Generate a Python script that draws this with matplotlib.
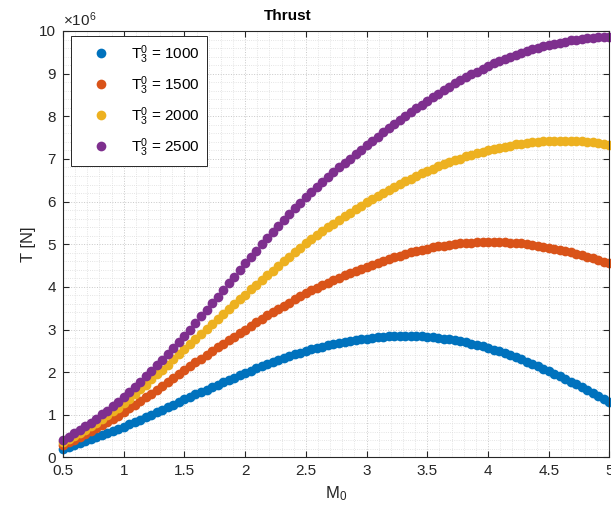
import matplotlib
matplotlib.use("Agg")
import matplotlib.pyplot as plt
import numpy as np
from matplotlib.ticker import MultipleLocator

plt.rcParams["font.family"] = "Liberation Sans"
plt.rcParams["mathtext.fontset"] = "custom"
plt.rcParams["mathtext.rm"] = "Liberation Sans"
plt.rcParams["mathtext.it"] = "Liberation Sans"

# MATLAB default line colours
COLORS = ["#0072BD", "#D95319", "#EDB120", "#7E2F8E"]
AX_COLOR = "#262626"

# flight Mach number, 100 samples from 0.5 to 5
mach = np.linspace(0.5, 5.0, 100)

# turbine inlet temperatures [K]
t3_values = [1000, 1500, 2000, 2500]

# thrust in units of 1e6 N, one list per T3
thrust_1000 = [
    0.21, 0.25, 0.29, 0.34, 0.38, 0.43, 0.47, 0.52, 0.57, 0.62, 0.67,
    0.72, 0.78, 0.83, 0.89, 0.95, 1.00, 1.06, 1.12, 1.18, 1.24, 1.30,
    1.36, 1.42, 1.48, 1.53, 1.59, 1.65, 1.71, 1.76, 1.82, 1.87, 1.93,
    1.98, 2.03, 2.09, 2.14, 2.19, 2.24, 2.28, 2.33, 2.37, 2.42, 2.46,
    2.50, 2.54, 2.57, 2.60, 2.63, 2.66, 2.69, 2.71, 2.73, 2.76, 2.77,
    2.79, 2.81, 2.82, 2.83, 2.84, 2.84, 2.85, 2.85, 2.85, 2.84, 2.84,
    2.83, 2.82, 2.80, 2.79, 2.77, 2.75, 2.72, 2.70, 2.67, 2.64, 2.61,
    2.57, 2.53, 2.49, 2.44, 2.40, 2.35, 2.30, 2.25, 2.19, 2.14, 2.08,
    2.02, 1.96, 1.90, 1.84, 1.78, 1.72, 1.65, 1.59, 1.52, 1.45, 1.38, 1.31,
]
thrust_1500 = [
    0.30, 0.36, 0.42, 0.48, 0.55, 0.62, 0.69, 0.76, 0.83, 0.90, 0.98,
    1.06, 1.15, 1.23, 1.32, 1.41, 1.50, 1.59, 1.68, 1.77, 1.86, 1.96,
    2.05, 2.14, 2.23, 2.32, 2.40, 2.49, 2.58, 2.66, 2.75, 2.83, 2.92,
    3.00, 3.08, 3.17, 3.25, 3.33, 3.41, 3.48, 3.56, 3.63, 3.71, 3.78,
    3.85, 3.92, 3.98, 4.04, 4.10, 4.16, 4.21, 4.27, 4.32, 4.37, 4.42,
    4.47, 4.52, 4.57, 4.61, 4.65, 4.69, 4.73, 4.77, 4.81, 4.84, 4.87,
    4.90, 4.93, 4.95, 4.97, 4.99, 5.01, 5.02, 5.03, 5.04, 5.05, 5.06,
    5.06, 5.06, 5.05, 5.05, 5.04, 5.03, 5.02, 5.00, 4.98, 4.97, 4.94,
    4.92, 4.90, 4.87, 4.84, 4.81, 4.78, 4.75, 4.71, 4.67, 4.63, 4.59, 4.55,
]
thrust_2000 = [
    0.36, 0.43, 0.50, 0.57, 0.65, 0.73, 0.81, 0.90, 0.99, 1.08, 1.17,
    1.27, 1.38, 1.49, 1.60, 1.71, 1.83, 1.95, 2.06, 2.18, 2.30, 2.43,
    2.55, 2.67, 2.78, 2.90, 3.02, 3.13, 3.25, 3.36, 3.48, 3.59, 3.71,
    3.82, 3.94, 4.05, 4.16, 4.27, 4.38, 4.49, 4.60, 4.71, 4.81, 4.92,
    5.02, 5.12, 5.21, 5.30, 5.40, 5.48, 5.57, 5.66, 5.74, 5.82, 5.90,
    5.98, 6.06, 6.13, 6.21, 6.28, 6.35, 6.41, 6.48, 6.54, 6.60, 6.66,
    6.72, 6.77, 6.83, 6.88, 6.92, 6.97, 7.01, 7.06, 7.09, 7.13, 7.17,
    7.20, 7.23, 7.26, 7.29, 7.31, 7.34, 7.36, 7.37, 7.39, 7.40, 7.41,
    7.42, 7.42, 7.43, 7.43, 7.42, 7.42, 7.41, 7.40, 7.39, 7.37, 7.35, 7.33,
]
thrust_2500 = [
    0.42, 0.49, 0.57, 0.65, 0.73, 0.82, 0.91, 1.01, 1.10, 1.21, 1.31,
    1.42, 1.54, 1.65, 1.78, 1.90, 2.03, 2.16, 2.29, 2.43, 2.56, 2.71,
    2.85, 3.00, 3.15, 3.31, 3.46, 3.62, 3.77, 3.92, 4.08, 4.24, 4.39,
    4.55, 4.70, 4.85, 5.00, 5.14, 5.28, 5.43, 5.56, 5.70, 5.84, 5.97,
    6.10, 6.22, 6.34, 6.46, 6.57, 6.69, 6.80, 6.91, 7.01, 7.12, 7.22,
    7.32, 7.42, 7.52, 7.62, 7.72, 7.82, 7.91, 8.00, 8.10, 8.19, 8.27,
    8.36, 8.45, 8.53, 8.61, 8.69, 8.77, 8.84, 8.91, 8.98, 9.05, 9.12,
    9.18, 9.24, 9.29, 9.34, 9.39, 9.44, 9.49, 9.53, 9.57, 9.60, 9.64,
    9.67, 9.70, 9.73, 9.75, 9.78, 9.80, 9.82, 9.83, 9.84, 9.86, 9.86, 9.87,
]
thrust_series = [thrust_1000, thrust_1500, thrust_2000, thrust_2500]

x_ticks = [0.5, 1, 1.5, 2, 2.5, 3, 3.5, 4, 4.5, 5]
x_ticklabels = ["0.5", "1", "1.5", "2", "2.5", "3", "3.5", "4", "4.5", "5"]
y_ticks = [0, 1, 2, 3, 4, 5, 6, 7, 8, 9, 10]

fig = plt.figure(figsize=(6.11, 5.20), dpi=100, facecolor="white")
ax = fig.add_axes([0.1031, 0.1202, 0.8944, 0.8202])

for t3, thrust, color in zip(t3_values, thrust_series, COLORS):
    ax.plot(mach, thrust, linestyle="none", marker="o", markersize=7,
            markerfacecolor=color, markeredgewidth=0, color=color,
            label=r"$\mathregular{T_3^0}$ = " + str(t3), clip_on=False)

ax.set_xlim(0.5, 5)
ax.set_ylim(0, 10)
ax.set_xticks(x_ticks)
ax.set_xticklabels(x_ticklabels)
ax.set_yticks(y_ticks)
ax.xaxis.set_minor_locator(MultipleLocator(0.1))
ax.yaxis.set_minor_locator(MultipleLocator(0.2))

ax.grid(which="major", linestyle=":", color="#c8c8c8", linewidth=0.7)
ax.grid(which="minor", linestyle=":", color="#dcdcdc", linewidth=0.6)
ax.set_axisbelow(True)

ax.tick_params(which="major", direction="in", top=True, right=True, length=4,
               width=0.8, color=AX_COLOR, labelcolor=AX_COLOR, labelsize=11, pad=5)
ax.tick_params(which="minor", length=0)
for sp in ax.spines.values():
    sp.set_color(AX_COLOR)
    sp.set_linewidth(0.8)

ax.set_title("Thrust", fontsize=11, fontweight="bold", color="black", pad=8, x=0.412)
ax.set_xlabel(r"$\mathregular{M_0}$", fontsize=12, color=AX_COLOR, labelpad=4)
ax.set_ylabel("T [N]", fontsize=12, color=AX_COLOR, labelpad=2)
ax.text(0.0, 1.005, r"$\mathregular{\times10^{6}}$", transform=ax.transAxes,
        ha="left", va="bottom", fontsize=11, color=AX_COLOR)

leg = ax.legend(loc="upper left", bbox_to_anchor=(0.0146, 0.9876), borderaxespad=0,
                fontsize=11, frameon=True, fancybox=False, framealpha=1,
                edgecolor=AX_COLOR, handlelength=3.0, handletextpad=0.5,
                labelspacing=0.55, borderpad=0.45, markerscale=1.0)
leg.get_frame().set_linewidth(0.7)

fig.savefig("out.png", dpi=100, facecolor="white")
